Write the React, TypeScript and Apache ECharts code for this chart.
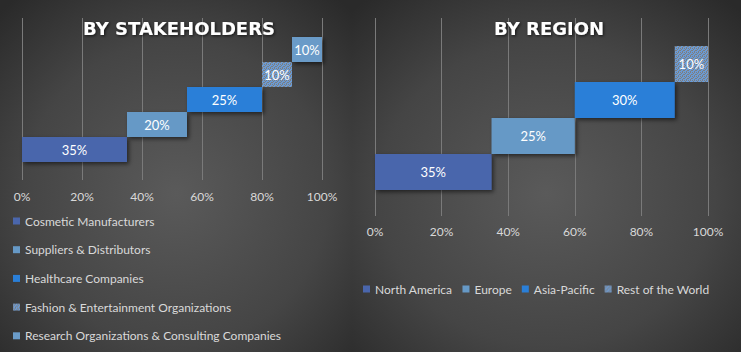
import React, { useEffect, useRef } from "react";
import * as echarts from "echarts";

const stakeholders = [
  "Cosmetic Manufacturers",
  "Suppliers & Distributors",
  "Healthcare Companies",
  "Fashion & Entertainment Organizations",
  "Research Organizations & Consulting Companies",
];
const stakeholderShares = [35, 20, 25, 10, 10];
const stakeholderColors = ["#4a66ac", "#6699c6", "#2a7fd8", "#7896bc", "#6a9bc8"];

const regions = ["North America", "Europe", "Asia-Pacific", "Rest of the World"];
const regionShares = [35, 25, 30, 10];
const regionColors = ["#4a66ac", "#6699c6", "#2a7fd8", "#7896bc"];

const axisMin = 0;
const axisMax = 100;
const axisStep = 20;

const FONT = "Lato";
const textColor = "#d9d9d9";

function makePattern(): any {
  const c = document.createElement("canvas");
  c.width = 4;
  c.height = 4;
  const ctx = c.getContext("2d");
  if (!ctx) return "#7896bc";
  ctx.fillStyle = "#6a9bd6";
  ctx.fillRect(0, 0, 4, 4);
  ctx.fillStyle = "#7e7e7e";
  const dots = [
    [0, 0], [2, 0], [1, 1], [3, 2], [0, 2], [2, 3],
  ];
  dots.forEach(([x, y]) => ctx.fillRect(x, y, 1, 1));
  return { image: c, repeat: "repeat", imageWidth: 4, imageHeight: 4 };
}

function buildSeries(
  names: string[],
  shares: number[],
  colors: string[],
  axisIndex: number,
  stack: string,
  patternIdx: number,
  pattern: any
) {
  const offsets: number[] = [];
  let acc = 0;
  shares.forEach((v) => {
    offsets.push(acc);
    acc += v;
  });
  const series: any[] = [
    {
      type: "bar",
      name: stack + "_base",
      stack,
      xAxisIndex: axisIndex,
      yAxisIndex: axisIndex,
      barCategoryGap: "0%",
      silent: true,
      itemStyle: { color: "rgba(0,0,0,0)" },
      data: offsets,
    },
  ];
  names.forEach((n, i) => {
    const isPattern = i === patternIdx;
    const itemStyle: any = isPattern
      ? { color: pattern }
      : {
          color: colors[i],
          shadowColor: "rgba(0,0,0,0.55)",
          shadowBlur: 4,
          shadowOffsetX: 2,
          shadowOffsetY: 2,
        };
    series.push({
      type: "bar",
      name: n,
      stack,
      xAxisIndex: axisIndex,
      yAxisIndex: axisIndex,
      barCategoryGap: "0%",
      itemStyle,
      label: {
        show: true,
        position: "inside",
        color: "#ffffff",
        fontFamily: FONT,
        fontSize: 13,
        formatter: (p: any) => p.value + "%",
      },
      data: names.map((_, j) => (j === i ? shares[i] : "-")),
    });
  });
  return series;
}

function axisGridX(gridIndex: number, showLabels: boolean, margin: number) {
  return {
    type: "value",
    gridIndex,
    min: axisMin,
    max: axisMax,
    interval: axisStep,
    axisLine: { show: false },
    axisTick: { show: false },
    axisLabel: {
      show: showLabels,
      color: textColor,
      fontFamily: FONT,
      fontSize: 12,
      margin,
      formatter: "{value}%",
    },
    splitLine: { show: showLabels, lineStyle: { color: "#7a7a7a", width: 1 } },
  };
}

export default function App() {
  const ref = useRef<HTMLDivElement>(null);
  useEffect(() => {
    if (!ref.current) return;
    const chart = echarts.init(ref.current, null, { renderer: "svg" });
    const pattern = makePattern();
    const bg = (x: number, w: number) => ({
      type: "rect",
      shape: { x, y: 0, width: w, height: 352 },
      z: -10,
      silent: true,
      style: {
        fill: {
          type: "radial",
          x: 0.5,
          y: 0.55,
          r: 0.72,
          colorStops: [
            { offset: 0, color: "#5a5a5a" },
            { offset: 0.6, color: "#454545" },
            { offset: 1, color: "#2a2a2a" },
          ],
        },
      },
    });
    const titleStyle = {
      color: "#ffffff",
      fontFamily: "DejaVu Sans",
      fontWeight: "bold",
      fontSize: 18,
      textShadowColor: "rgba(0,0,0,0.7)",
      textShadowBlur: 3,
      textShadowOffsetX: 1,
      textShadowOffsetY: 1,
    };
    chart.setOption({
      animation: false,
      backgroundColor: "#2e2e2e",
      graphic: [bg(0, 352), bg(352, 389)],
      title: [
        { text: "BY STAKEHOLDERS", left: 174, top: 14, textAlign: "center", textStyle: titleStyle },
        { text: "BY REGION", left: 544, top: 14, textAlign: "center", textStyle: titleStyle },
      ],
      legend: [
        {
          data: stakeholders,
          orient: "vertical",
          left: 8,
          top: 209,
          padding: [5, 5, 0, 5],
          itemWidth: 7,
          itemHeight: 7,
          itemGap: 14.7,
          icon: "rect",
          textStyle: { color: textColor, fontFamily: FONT, fontSize: 12, lineHeight: 14 },
        },
        {
          data: regions,
          orient: "horizontal",
          left: 358,
          top: 277,
          itemWidth: 7,
          itemHeight: 7,
          itemGap: 10,
          icon: "rect",
          textStyle: { color: textColor, fontFamily: FONT, fontSize: 12, lineHeight: 14 },
        },
      ],
      grid: [
        { left: 22, width: 300, top: 18, height: 162 },
        { left: 22, width: 300, top: 37, height: 125 },
        { left: 375, width: 333, top: 18, height: 198 },
        { left: 375, width: 333, top: 46, height: 144 },
      ],
      xAxis: [
        axisGridX(0, true, 10),
        axisGridX(1, false, 10),
        axisGridX(2, true, 9),
        axisGridX(3, false, 9),
      ],
      yAxis: [
        { type: "category", gridIndex: 0, data: stakeholders, show: false },
        { type: "category", gridIndex: 1, data: stakeholders, show: false },
        { type: "category", gridIndex: 2, data: regions, show: false },
        { type: "category", gridIndex: 3, data: regions, show: false },
      ],
      series: [
        ...buildSeries(stakeholders, stakeholderShares, stakeholderColors, 1, "L", 3, pattern),
        ...buildSeries(regions, regionShares, regionColors, 3, "R", 3, pattern),
      ],
    });
    return () => chart.dispose();
  }, []);
  return (
    <div
      ref={ref}
      style={{ position: "fixed", left: 0, top: 0, width: 741, height: 352 }}
    />
  );
}
